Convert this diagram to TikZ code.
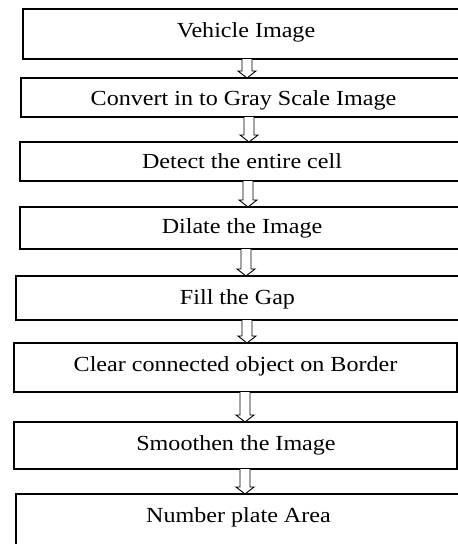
\documentclass[tikz,border=0pt]{standalone}
\usepackage{fontspec}
\setmainfont[FakeStretch=1.12]{Liberation Serif}
\usetikzlibrary{calc}
\tikzset{
  box/.style={draw=black, line width=1.6pt, rectangle, inner sep=0pt, outer sep=0pt, anchor=north west},
  lbl/.style={anchor=base, inner sep=0pt, font=\fontsize{21.5}{24}\selectfont, text=black},
  harrow/.style={draw=black, line width=0.9pt, fill=white, line join=miter}
}
\newcommand\hollowdown[3]{%
  \draw[harrow] let \p1=(#1.south), \p2=(#2.north) in
    ({#3pt-5pt},\y1) -- ({#3pt-5pt},{\y2+7pt}) -- ({#3pt-9pt},{\y2+7pt}) -- ({#3pt},\y2)
    -- ({#3pt+9pt},{\y2+7pt}) -- ({#3pt+5pt},{\y2+7pt}) -- ({#3pt+5pt},\y1);}
\begin{document}
\begin{tikzpicture}[x=1pt,y=-1pt]
\useasboundingbox (0,0) rectangle (458,544);
\clip (0,0) rectangle (458,544);
% boxes
\node[box, minimum width=460pt, minimum height=50pt] (b1) at (23,9) {};
\node[box, minimum width=460pt, minimum height=39pt] (b2) at (21,78) {};
\node[box, minimum width=460pt, minimum height=39pt] (b3) at (20,142) {};
\node[box, minimum width=460pt, minimum height=42pt] (b4) at (20,207) {};
\node[box, minimum width=460pt, minimum height=44pt] (b5) at (16,276) {};
\node[box, minimum width=443pt, minimum height=49pt] (b6) at (14,343) {};
\node[box, minimum width=443pt, minimum height=47pt] (b7) at (14,422) {};
\node[box, minimum width=460pt, minimum height=70pt] (b8) at (16,494) {};
% texts
\node[lbl] (t1) at (246,37.5) {Vehicle Image};
\node[lbl] (t2) at (243.5,105) {Convert in to Gray Scale Image};
\node[lbl] (t3) at (242,168) {Detect the entire cell};
\node[lbl] (t4) at (242,233.5) {Dilate the Image};
\node[lbl] (t5) at (237.5,304) {Fill the Gap};
\node[lbl] (t6) at (235.5,371) {Clear connected object on Border};
\node[lbl] (t7) at (236,450) {Smoothen the Image};
\node[lbl] (t8) at (238.5,522) {Number plate Area};
% arrows
\hollowdown{b1}{b2}{247}
\hollowdown{b2}{b3}{249}
\hollowdown{b3}{b4}{248}
\hollowdown{b4}{b5}{246}
\hollowdown{b5}{b6}{247}
\hollowdown{b6}{b7}{245}
\hollowdown{b7}{b8}{245}
\end{tikzpicture}
\end{document}
